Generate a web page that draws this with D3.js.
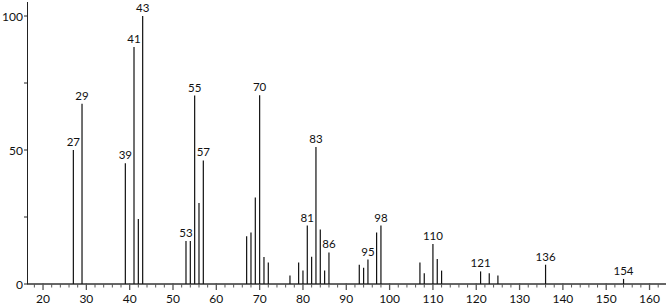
<!DOCTYPE html>
<html>
<head>
<meta charset="utf-8">
<script src="https://cdn.jsdelivr.net/npm/d3@7"></script>
<style>
  body { margin: 0; background: #fff; }
  text { font-family: Lato, "Open Sans", sans-serif; fill: #111; }
</style>
</head>
<body>
<div id="chart"></div>
<script>
// m/z values and relative intensities
const mz = [27, 29, 39, 41, 42, 43, 53, 54, 55, 56, 57, 67, 68, 69, 70, 71, 72, 77, 79, 80,
            81, 82, 83, 84, 85, 86, 93, 94, 95, 97, 98, 107, 108, 110, 111, 112, 121, 123, 125, 136, 154];
const intensity = [50, 67.3, 45.1, 88.4, 24.3, 100, 16, 16, 70.3, 30.2, 46.1, 17.8, 19.2, 32.3, 70.4, 10.1, 8, 3.2, 8, 5,
                   21.8, 10.2, 51.1, 20.3, 5, 11.8, 7.2, 6.1, 9.1, 19.2, 21.8, 8, 4, 14.9, 9.3, 5, 4.7, 4, 3.2, 7.2, 1.9];
// peaks that carry a label
const labelled = [27, 29, 39, 41, 43, 53, 55, 57, 70, 81, 83, 86, 95, 98, 110, 121, 136, 154];
const xTicks = [20, 30, 40, 50, 60, 70, 80, 90, 100, 110, 120, 130, 140, 150, 160];
const yTicks = [0, 50, 100];

const width = 667, height = 306;
const peaks = mz.map((m, i) => ({ mz: m, value: intensity[i] }));

const svg = d3.select("#chart").append("svg")
    .attr("width", width).attr("height", height);

const x = d3.scaleLinear().domain([16.3, 163.8]).range([27, 666]);
const y = d3.scaleLinear().domain([0, 100]).range([284, 16]);

// x axis: gray line with major and minor ticks
svg.append("line")
    .attr("x1", 27).attr("x2", 666)
    .attr("y1", y(0)).attr("y2", y(0))
    .attr("stroke", "#666").attr("stroke-width", 2);

const minor = d3.range(18, 164, 2).filter(v => v % 10 !== 0);
svg.append("g").selectAll("line")
    .data(minor).enter().append("line")
    .attr("x1", d => x(d)).attr("x2", d => x(d))
    .attr("y1", y(0)).attr("y2", y(0) + 3.5)
    .attr("stroke", "#555").attr("stroke-width", 1);

svg.append("g").selectAll("line")
    .data(xTicks).enter().append("line")
    .attr("x1", d => x(d)).attr("x2", d => x(d))
    .attr("y1", y(0) - 1).attr("y2", y(0) + 6)
    .attr("stroke", "#555").attr("stroke-width", 1.3);

svg.append("g").selectAll("text")
    .data(xTicks).enter().append("text")
    .attr("x", d => x(d)).attr("y", 303)
    .attr("text-anchor", "middle")
    .attr("font-size", 12)
    .text(d => d);

// y axis
svg.append("line")
    .attr("x1", 27.5).attr("x2", 27.5)
    .attr("y1", 2).attr("y2", y(0))
    .attr("stroke", "#222").attr("stroke-width", 1);

svg.append("g").selectAll("line")
    .data([0, 25, 50, 75, 100]).enter().append("line")
    .attr("x1", 24).attr("x2", 27.5)
    .attr("y1", d => y(d)).attr("y2", d => y(d))
    .attr("stroke", "#222").attr("stroke-width", 1);

svg.append("g").selectAll("text")
    .data(yTicks).enter().append("text")
    .attr("x", 23).attr("y", d => y(d) + 4.5)
    .attr("text-anchor", "end")
    .attr("font-size", 12)
    .text(d => d);

// peaks
svg.append("g").selectAll("line")
    .data(peaks).enter().append("line")
    .attr("x1", d => x(d.mz)).attr("x2", d => x(d.mz))
    .attr("y1", y(0)).attr("y2", d => y(d.value))
    .attr("stroke", "#111").attr("stroke-width", 1.2);

svg.append("g").selectAll("text")
    .data(peaks.filter(d => labelled.includes(d.mz))).enter().append("text")
    .attr("x", d => x(d.mz)).attr("y", d => y(d.value) - 4)
    .attr("text-anchor", "middle")
    .attr("font-size", 11.5)
    .text(d => d.mz);
</script>
</body>
</html>
